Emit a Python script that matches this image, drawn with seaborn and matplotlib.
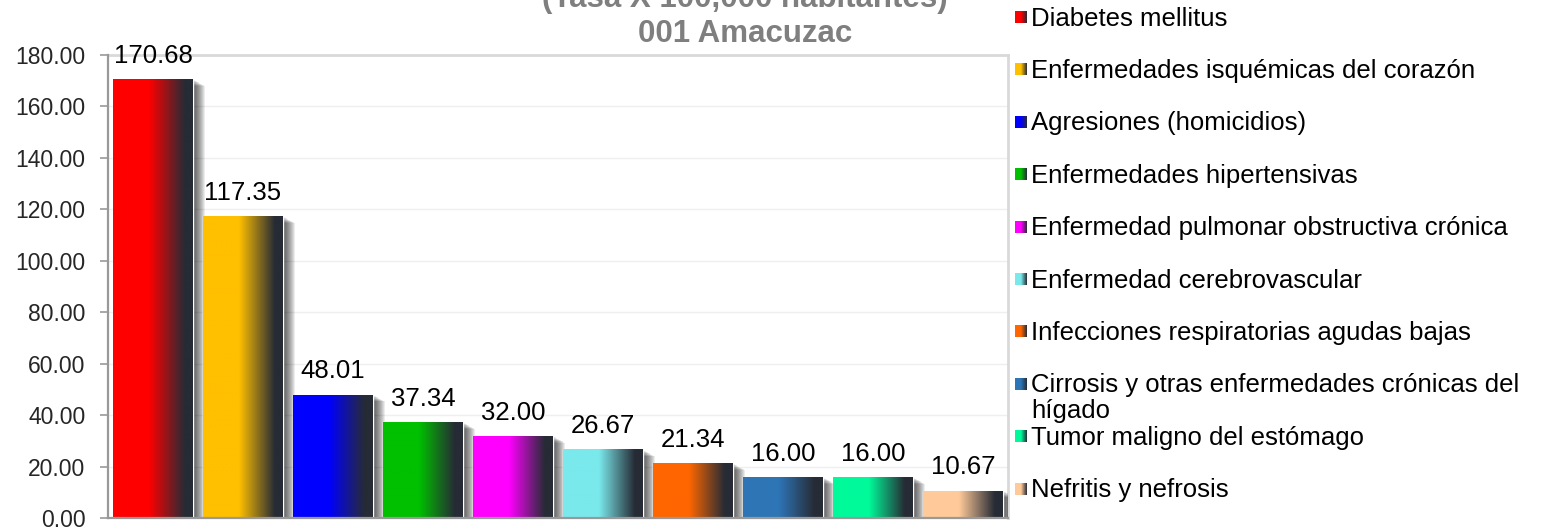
import numpy as np
import pandas as pd
import seaborn as sns
import matplotlib
matplotlib.use("Agg")
import matplotlib.pyplot as plt
import matplotlib.patheffects as pe
from matplotlib.colors import LinearSegmentedColormap

# datos
causas = [
    "Diabetes mellitus",
    "Enfermedades isquémicas del corazón",
    "Agresiones (homicidios)",
    "Enfermedades hipertensivas",
    "Enfermedad pulmonar obstructiva crónica",
    "Enfermedad cerebrovascular",
    "Infecciones respiratorias agudas bajas",
    "Cirrosis y otras enfermedades crónicas del\nhígado",
    "Tumor maligno del estómago",
    "Nefritis y nefrosis",
]
tasas = [170.68, 117.35, 48.01, 37.34, 32.00, 26.67, 21.34, 16.00, 16.00, 10.67]
colores = ["#FF0000", "#FFC000", "#0000FF", "#00C000", "#FF00FF",
           "#7AE9EC", "#FF6600", "#2E75B6", "#00FA9A", "#FFCA99"]
y_ticks = [0, 20, 40, 60, 80, 100, 120, 140, 160, 180]
titulo_1 = "(Tasa X 100,000 habitantes)"
titulo_2 = "001 Amacuzac"

OSCURO = "#262B35"
W, H = 1562, 529

sns.set_style("white")
plt.rcParams["font.family"] = ["Liberation Sans", "DejaVu Sans"]

df = pd.DataFrame({"causa": causas, "tasa": tasas})

fig = plt.figure(figsize=(W / 100, H / 100), dpi=100)
ax = fig.add_axes([108 / W, 1 - 518 / H, 900 / W, 463 / H])

sns.barplot(data=df, x="causa", y="tasa", hue="causa", palette=colores,
            dodge=False, legend=False, width=0.88, ax=ax, zorder=3)

ax.set_xlim(-0.5, len(causas) - 0.5)
ax.set_ylim(0, 180)


def gradiente(color):
    return LinearSegmentedColormap.from_list(
        "g", [(0, color), (0.45, color), (0.9, OSCURO), (1, OSCURO)])


# sombra difusa: muchas capas suaves desplazadas
sombra = [pe.SimplePatchShadow(offset=(k, -0.55 * k), shadow_rgbFace="#000000", alpha=0.075)
          for k in np.arange(0.75, 9.1, 0.75)]

fila = np.linspace(0, 1, 256).reshape(1, -1)
for bar, color in zip(ax.patches, colores):
    bar.set_path_effects(sombra + [pe.Normal()])
    x0, w, h = bar.get_x(), bar.get_width(), bar.get_height()
    im = ax.imshow(fila, cmap=gradiente(color), extent=(x0, x0 + w, 0, h),
                   aspect="auto", zorder=4, interpolation="bilinear")
    im.set_clip_path(bar)
    ax.annotate(f"{h:.2f}", (x0 + w / 2, h), xytext=(0, 8),
                textcoords="offset points", ha="center", va="bottom",
                fontsize=18.5, color="black", zorder=6)

ax.set_xlim(-0.5, len(causas) - 0.5)
ax.set_ylim(0, 180)
ax.set_yticks(y_ticks)
ax.set_yticklabels([f"{v:.2f}" for v in y_ticks], fontsize=16.5)
ax.set_xticks([])
ax.set_xlabel("")
ax.set_ylabel("")
ax.tick_params(axis="y", length=5.8, width=1.2, color="#999999", pad=10.5, left=True)
ax.yaxis.grid(True, color="#EFEFEF", linewidth=1, zorder=0)
ax.set_axisbelow(True)

for lado in ["left", "bottom"]:
    ax.spines[lado].set_color("#999999")
    ax.spines[lado].set_linewidth(1.6)
    ax.spines[lado].set_zorder(7)
for lado in ["top", "right"]:
    ax.spines[lado].set_visible(True)
    ax.spines[lado].set_color("#D9D9D9")
    ax.spines[lado].set_linewidth(2)

# titulo (primera linea recortada arriba, como en el original)
fig.text(745 / W, 1 - 7 / H, titulo_1, ha="center", va="baseline",
         fontsize=22.5, fontweight="bold", color="#7F7F7F")
fig.text(745 / W, 1 - 42 / H, titulo_2, ha="center", va="baseline",
         fontsize=22.5, fontweight="bold", color="#7F7F7F")

# leyenda a la derecha
x_marca = 1015 / W
x_texto = 1031 / W
for i, (causa, color) in enumerate(zip(causas, colores)):
    y_px = 17 + i * 52.4
    cax = fig.add_axes([x_marca, 1 - (y_px + 6) / H, 12 / W, 12 / H])
    cax.imshow(fila, cmap=LinearSegmentedColormap.from_list(
        "m", [(0, color), (0.5, color), (1, OSCURO)]), aspect="auto")
    cax.set_axis_off()
    fig.text(x_texto, 1 - (y_px - 10.5) / H, causa, ha="left", va="top",
             fontsize=18.5, color="black", linespacing=1.1)

fig.savefig("out.png", dpi=100)
